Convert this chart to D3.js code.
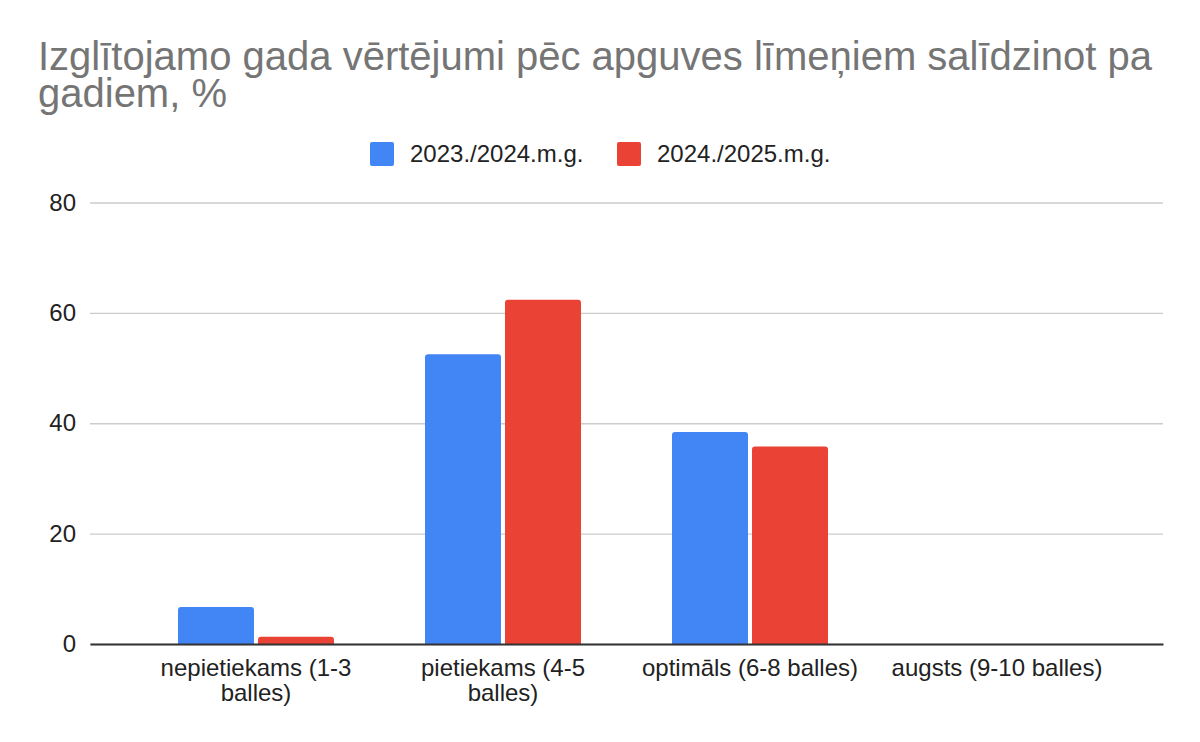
<!DOCTYPE html>
<html>
<head>
	<meta charset="utf-8">
	<title>apguves līmeņi</title>
	<style>
		body { margin: 0; background: #fff; }
		svg text { font-family: Arial, "Liberation Sans", sans-serif; }
	</style>
</head>
<body>
<div class="chart"></div>
<script src="https://cdn.jsdelivr.net/npm/d3@7"></script>
<script>
	// data
	const categories = ["nepietiekams (1-3 balles)", "pietiekams (4-5 balles)", "optimāls (6-8 balles)", "augsts (9-10 balles)"];
	const seriesNames = ["2023./2024.m.g.", "2024./2025.m.g."];
	const values2324 = [6.7, 52.5, 38.4, 0];
	const values2425 = [1.3, 62.4, 35.8, 0];
	const yTicks = [0, 20, 40, 60, 80];
	const colors = ["#4285f4", "#ea4335"];
	const titleLines = ["Izglītojamo gada vērtējumi pēc apguves līmeņiem salīdzinot pa", "gadiem, %"];

	const width = 1200, height = 742;
	const plot = {left: 90, right: 1163, top: 202.5, bottom: 644};

	const svg = d3.select(".chart").append("svg")
		.attr("width", width)
		.attr("height", height);

	// title
	svg.append("g").selectAll("text")
		.data(titleLines)
		.enter().append("text")
		.attr("x", 38)
		.attr("y", (d, i) => 70 + i * 37)
		.attr("fill", "#757575")
		.attr("font-size", 40)
		.text(d => d);

	// scales
	const x0 = d3.scaleBand()
		.domain(categories)
		.range([plot.left, plot.right])
		.paddingInner(0)
		.paddingOuter(0.172);
	const x1 = d3.scaleBand()
		.domain(seriesNames)
		.range([0, 156])
		.paddingInner(0.05);
	const y = d3.scaleLinear()
		.domain([0, 80])
		.range([plot.bottom, plot.top]);

	// gridlines + y labels
	const yAxis = d3.axisLeft(y)
		.tickValues(yTicks)
		.tickSize(-(plot.right - plot.left))
		.tickPadding(14);
	const gy = svg.append("g")
		.attr("transform", "translate(" + plot.left + ",0)")
		.call(yAxis);
	gy.select(".domain").remove();
	gy.selectAll(".tick line").attr("stroke", "#cccccc").attr("stroke-width", 1.3);
	gy.selectAll(".tick text")
		.attr("font-size", 24)
		.attr("fill", "#222")
		.attr("font-family", "Arial, 'Liberation Sans', sans-serif");

	// bars
	const rows = categories.map((c, i) => ({cat: c, vals: [values2324[i], values2425[i]]}));
	function barPath(x, w, yTop, yBase) {
		const h = yBase - yTop;
		if (h <= 0) return "";
		const r = Math.min(3, h, w / 2);
		return "M" + x + "," + yBase +
			"V" + (yTop + r) +
			"Q" + x + "," + yTop + " " + (x + r) + "," + yTop +
			"H" + (x + w - r) +
			"Q" + (x + w) + "," + yTop + " " + (x + w) + "," + (yTop + r) +
			"V" + yBase + "Z";
	}
	const groups = svg.append("g").selectAll("g")
		.data(rows)
		.enter().append("g")
		.attr("transform", d => "translate(" + (x0(d.cat) + (x0.bandwidth() - 156) / 2) + ",0)");
	groups.selectAll("path")
		.data(d => d.vals.map((v, j) => ({s: seriesNames[j], v: v, j: j})))
		.enter().append("path")
		.attr("fill", d => colors[d.j])
		.attr("d", d => barPath(x1(d.s), x1.bandwidth(), y(d.v), y(0)));

	// x axis
	const xAxis = d3.axisBottom(x0).tickSize(0).tickPadding(15);
	const gx = svg.append("g")
		.attr("transform", "translate(0," + plot.bottom + ")")
		.call(xAxis);
	gx.select(".domain").attr("stroke", "#333").attr("stroke-width", 2.2);
	gx.selectAll(".tick text")
		.attr("font-size", 24)
		.attr("fill", "#222")
		.attr("font-family", "Arial, 'Liberation Sans', sans-serif")
		.each(function(d) { wrap(d3.select(this), 232); });

	function wrap(text, maxW) {
		const words = text.text().split(/\s+/);
		const yy = text.attr("y");
		const dy = parseFloat(text.attr("dy"));
		text.text(null);
		let line = [];
		let n = 0;
		let tspan = text.append("tspan").attr("x", 0).attr("y", yy).attr("dy", dy + "em");
		words.forEach(w => {
			line.push(w);
			tspan.text(line.join(" "));
			if (tspan.node().getComputedTextLength() > maxW && line.length > 1) {
				line.pop();
				tspan.text(line.join(" "));
				line = [w];
				n++;
				tspan = text.append("tspan").attr("x", 0).attr("y", yy)
					.attr("dy", (dy + n * 1.04) + "em").text(w);
			}
		});
	}

	// legend
	const legend = svg.append("g").attr("transform", "translate(370,142)");
	const legendX = [0, 247];
	const items = legend.selectAll("g")
		.data(seriesNames)
		.enter().append("g")
		.attr("transform", (d, i) => "translate(" + legendX[i] + ",0)");
	items.append("rect")
		.attr("width", 24).attr("height", 24).attr("rx", 2)
		.attr("fill", (d, i) => colors[i]);
	items.append("text")
		.attr("x", 40).attr("y", 20)
		.attr("font-size", 24)
		.attr("fill", "#222")
		.text(d => d);
</script>
</body>
</html>
